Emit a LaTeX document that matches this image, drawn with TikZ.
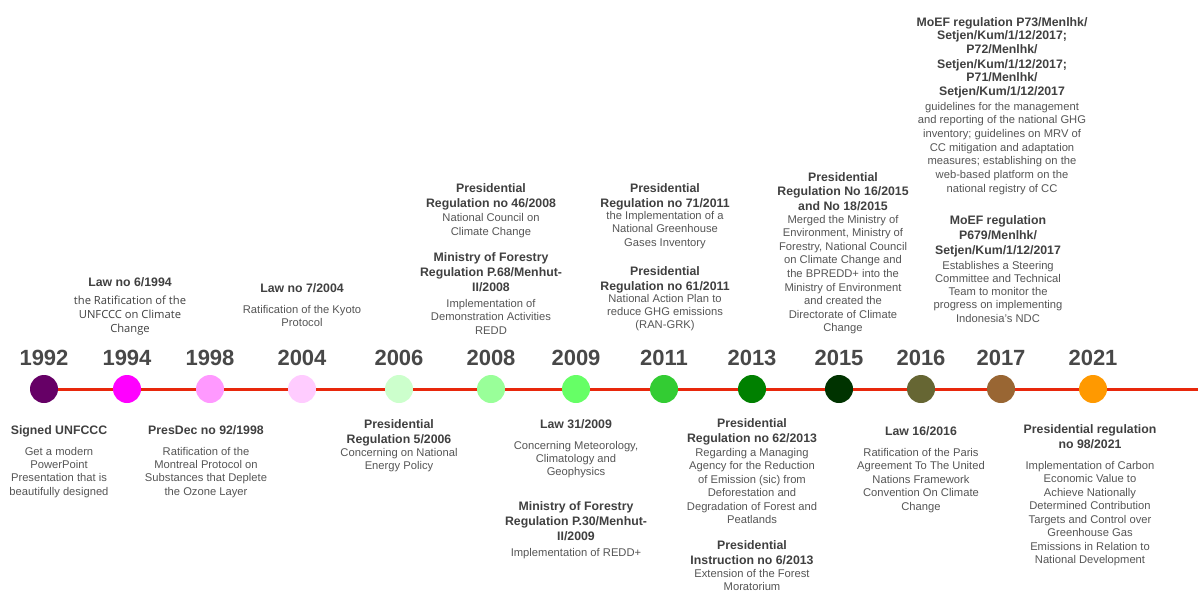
\documentclass[tikz,border=0pt]{standalone}
\usepackage{fontspec}
\setmainfont{Liberation Sans}
\newfontfamily\opensans{Open Sans}
\usetikzlibrary{backgrounds}
\definecolor{linered}{RGB}{232,40,12}
\definecolor{ttlgray}{RGB}{64,64,64}
\definecolor{dscgray}{RGB}{85,85,85}
\definecolor{yeargray}{RGB}{72,72,72}
% anchor=base sits on the last line of a node
\tikzset{
  yearlbl/.style={font=\fontsize{22}{26}\selectfont\bfseries, text=yeargray, anchor=base, inner sep=0pt},
  ttl/.style={font=\fontsize{12.3}{15}\selectfont\bfseries, text=ttlgray, align=center, anchor=base, inner sep=0pt},
  dsc/.style={font=\fontsize{11.2}{13.5}\selectfont, text=dscgray, align=center, anchor=base, inner sep=0pt},
  dot/.style={circle, minimum size=28pt, inner sep=0pt},
}
\begin{document}
\begin{tikzpicture}[x=1pt, y=-1pt]
		\useasboundingbox (0,0) rectangle (1198,591);
		% timeline dots and years
		\foreach \yr/\xx/\col in {1992/44/660066, 1994/127/FF00FF, 1998/210/FF99FF, 2004/302/FFCCFF, 2006/399/CCFFCC, 2008/491/99FF99, 2009/576/66FF66, 2011/664/33CC33, 2013/752/008000, 2015/839/003300, 2016/921/666633, 2017/1001/996633, 2021/1093/FF9900}{
			\definecolor{dotcol}{HTML}{\col}
			\node[dot, fill=dotcol] (c\yr) at (\xx,389) {};
			\node[yearlbl] (y\yr) at (\xx,365) {\yr};
		}
		\coordinate (lineend) at (1198,389);
		\begin{scope}[on background layer]
			\draw[linered, line width=3pt] (c1992.center) -- (lineend);
		\end{scope}
		% above the line
		\node[ttl] (t1994) at (130,286) {Law no 6/1994};
		\node[dsc, font=\fontsize{11.2}{14}\selectfont\opensans, text=ttlgray] (d1994) at (130,332) {the Ratification of the\\UNFCCC on Climate\\Change};
		\node[ttl] (t2004) at (302,292) {Law no 7/2004};
		\node[dsc, font=\fontsize{11.2}{13.7}\selectfont] (d2004) at (302,326.7) {Ratification of the Kyoto\\Protocol};
		\node[ttl] (t2008a) at (491,207) {Presidential\\Regulation no 46/2008};
		\node[dsc, font=\fontsize{11.2}{14}\selectfont] (d2008a) at (491,235) {National Council on\\Climate Change};
		\node[ttl] (t2008b) at (491,291) {Ministry of Forestry\\Regulation P.68/Menhut-\\II/2008};
		\node[dsc, font=\fontsize{11.2}{13.8}\selectfont] (d2008b) at (491,334.6) {Implementation of\\Demonstration Activities\\REDD};
		\node[ttl] (t2011a) at (665,207) {Presidential\\Regulation no 71/2011};
		\node[dsc, font=\fontsize{11.2}{13.8}\selectfont] (d2011a) at (665,246.6) {the Implementation of a\\National Greenhouse\\Gases Inventory};
		\node[ttl] (t2011b) at (665,290) {Presidential\\Regulation no 61/2011};
		\node[dsc, font=\fontsize{11.2}{13.2}\selectfont] (d2011b) at (665,328.4) {National Action Plan to\\reduce GHG emissions\\(RAN-GRK)};
		\node[ttl, font=\fontsize{12.3}{14.5}\selectfont\bfseries] (t2015) at (843,210) {Presidential\\Regulation No 16/2015\\and No 18/2015};
		\node[dsc, font=\fontsize{11.2}{13.6}\selectfont] (d2015) at (843,331.8) {Merged the Ministry of\\Environment, Ministry of\\Forestry, National Council\\on Climate Change and\\the BPREDD+ into the\\Ministry of Environment\\and created the\\Directorate of Climate\\Change};
		\node[ttl, font=\fontsize{12.3}{14}\selectfont\bfseries] (t2017a) at (1002,96) {MoEF regulation P73/Menlhk/\\Setjen/Kum/1/12/2017;\\P72/Menlhk/\\Setjen/Kum/1/12/2017;\\P71/Menlhk/\\Setjen/Kum/1/12/2017};
		\node[dsc, font=\fontsize{11.2}{13.7}\selectfont] (d2017a) at (1002,192.2) {guidelines for the management\\and reporting of the national GHG\\inventory; guidelines on MRV of\\CC mitigation and adaptation\\measures; establishing on the\\web-based platform on the\\national registry of CC};
		\node[ttl] (t2017b) at (998,254) {MoEF regulation\\P679/Menlhk/\\Setjen/Kum/1/12/2017};
		\node[dsc, font=\fontsize{11.2}{13.3}\selectfont] (d2017b) at (998,322.2) {Establishes a Steering\\Committee and Technical\\Team to monitor the\\progress on implementing\\Indonesia's NDC};
		% below the line
		\node[ttl] (t1992) at (59,434) {Signed UNFCCC};
		\node[dsc, font=\fontsize{11.2}{13.4}\selectfont] (d1992) at (59,495.2) {Get a modern\\PowerPoint\\Presentation that is\\beautifully designed};
		\node[ttl] (t1998) at (206,434) {PresDec no 92/1998};
		\node[dsc, font=\fontsize{11.2}{13.4}\selectfont] (d1998) at (206,495.2) {Ratification of the\\Montreal Protocol on\\Substances that Deplete\\the Ozone Layer};
		\node[ttl] (t2006) at (399,443) {Presidential\\Regulation 5/2006};
		\node[dsc] (d2006) at (399,469.5) {Concerning on National\\Energy Policy};
		\node[ttl] (t2009a) at (576,428) {Law 31/2009};
		\node[dsc, font=\fontsize{11.2}{13}\selectfont] (d2009a) at (576,475) {Concerning Meteorology,\\Climatology and\\Geophysics};
		\node[ttl] (t2009b) at (576,540) {Ministry of Forestry\\Regulation P.30/Menhut-\\II/2009};
		\node[dsc] (d2009b) at (576,556) {Implementation of REDD+};
		\node[ttl] (t2013a) at (752,442) {Presidential\\Regulation no 62/2013};
		\node[dsc] (d2013a) at (752,523.5) {Regarding a Managing\\Agency for the Reduction\\of Emission (sic) from\\Deforestation and\\Degradation of Forest and\\Peatlands};
		\node[ttl] (t2013b) at (752,564) {Presidential\\Instruction no 6/2013};
		\node[dsc] (d2013b) at (752,590.5) {Extension of the Forest\\Moratorium};
		\node[ttl] (t2016) at (921,435) {Law 16/2016};
		\node[dsc] (d2016) at (921,510) {Ratification of the Paris\\Agreement To The United\\Nations Framework\\Convention On Climate\\Change};
		\node[ttl] (t2021) at (1090,448) {Presidential regulation\\no 98/2021};
		\node[dsc] (d2021) at (1090,563.5) {Implementation of Carbon\\Economic Value to\\Achieve Nationally\\Determined Contribution\\Targets and Control over\\Greenhouse Gas\\Emissions in Relation to\\National Development};
\end{tikzpicture}
\end{document}
